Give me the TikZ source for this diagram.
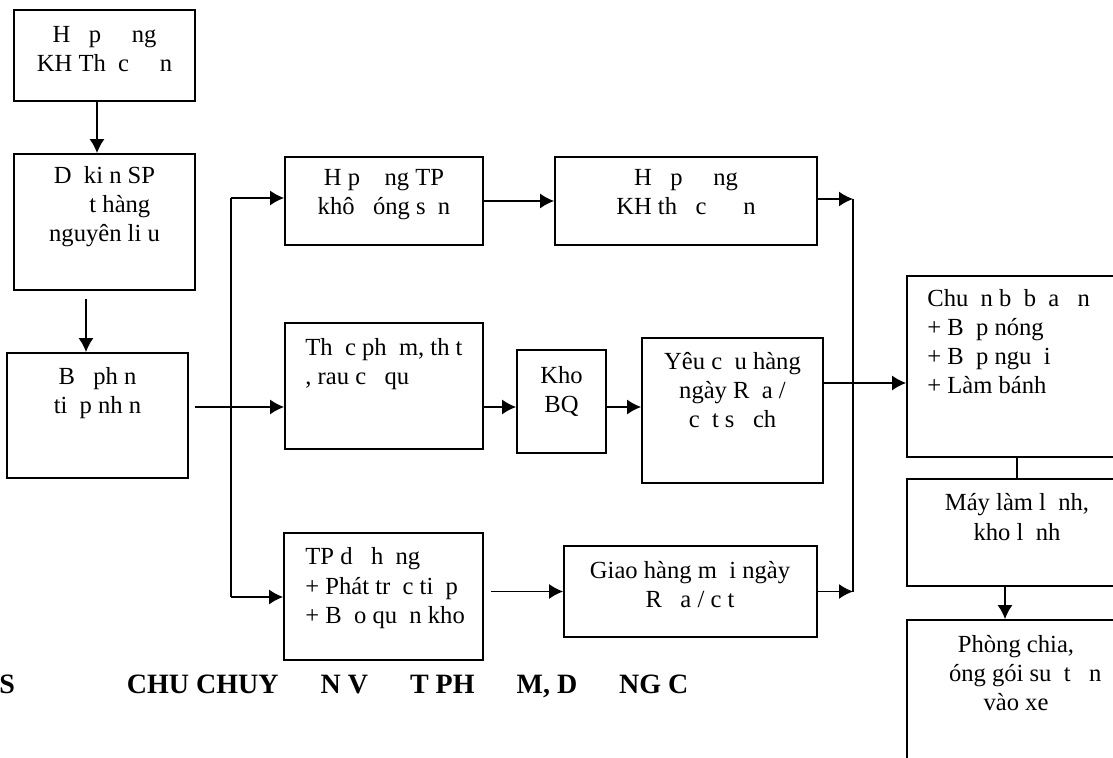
\documentclass[tikz,border=0pt]{standalone}
\usepackage{fontspec}
\setmainfont{Liberation Serif}
\usetikzlibrary{arrows.meta,fit}

\tikzset{
  box/.style={draw, line width=0.9pt, inner sep=0pt},
  ctxt/.style={align=center, inner sep=0pt, anchor=base},
  ltxt/.style={align=left, inner sep=0pt, anchor=base west},
  conn/.style={line width=0.8pt}
}

\begin{document}
\begin{tikzpicture}[x=0.5pt, y=-0.5pt, font=\fontsize{12.3}{14.5}\selectfont, >={Latex[length=7pt,width=7.5pt]}]
    \clip (0,0) rectangle (1113,758);
    \node[box, fit={(14,10) (195,101)}] (hd) {};
    \node[ctxt] (hdt) at (104.5,72) {H~~~p~~~~~ng\\KH Th~~c~~~~~n};
    \node[box, fit={(14,154) (195,290)}] (dk) {};
    \node[ctxt] (dkt) at (104.5,242) {D~~ki~n SP\\~~~~~t hàng\\nguyên li~u};
    \node[box, fit={(7,353) (188,478)}] (bp) {};
    \node[ctxt] (bpt) at (97.5,414) {B~~~ph~n\\ti~~p nh~n};

    \node[box, fit={(285,157) (483,245)}] (hk) {};
    \node[ctxt] (hkt) at (384,215) {H~p~~~~ng TP\\khô~~~óng s~~n};
    \node[box, fit={(555,157) (817,245)}] (kh) {};
    \node[ctxt] (kht) at (686,215) {H~~~p~~~~~ng\\KH th~~~c~~~~~~n};

    \node[box, fit={(285,323) (483,449)}] (tp) {};
    \node[ltxt] (tpt) at (305,385) {Th~~c ph~~m, th~t\\, rau c~~~qu};
    \node[box, fit={(517,350) (606,453)}] (kho) {};
    \node[ctxt] (khot) at (561.5,413) {Kho\\BQ};
    \node[box, fit={(642,338) (823,483)}] (yc) {};
    \node[ctxt] (yct) at (732.5,428) {Yêu c~~u hàng\\ngày R~~a /\\c~~t s~~~ch};

    \node[box, fit={(284,533) (483,660)}] (dp) {};
    \node[ltxt] (dpt) at (305,623) {TP d~~~h~~ng\\+ Phát tr~~c ti~~p\\+ B~~o qu~~n kho};
    \node[box, fit={(564,546) (817,637)}] (gh) {};
    \node[ctxt] (ght) at (690,607) {Giao hàng m~~i ngày\\R~~~a / c~t};

    \node[box, fit={(907,276) (1127,457)}] (cb) {};
    \node[ltxt] (cbt) at (927,394) {Chu~~n b~~b~~a~~~n\\+ B~~p nóng\\+ B~~p ngu~~i\\+ Làm bánh};
    \node[box, fit={(907,479) (1127,586)}] (ml) {};
    \node[ctxt] (mlt) at (1017,540) {Máy làm l~~nh,\\kho l~~nh};
    \node[box, fit={(907,620) (1127,800)}] (pc) {};
    \node[ctxt] (pct) at (1016,710) {Phòng chia,\\~~~óng gói su~~t~~~n\\vào xe};

    \node[anchor=base west, inner sep=0pt, font=\fontsize{14}{16}\selectfont\bfseries] (title) at (-1,693)
        {S\hspace{56pt}CHU CHUY\hspace{21pt}N V\hspace{21pt}T PH\hspace{21pt}M, D\hspace{21pt}NG C};

    \coordinate (bl1) at (231,198);
    \coordinate (bl2) at (231,597);
    \coordinate (bm) at (231,407);
    \coordinate (br1) at (853,199);
    \coordinate (br2) at (853,591.5);
    \coordinate (ym) at (853,383);

    \draw[conn, ->] ([xshift=-3.75pt]hd.south) -- ([xshift=-3.75pt]dk.north);
    \draw[conn, ->] ([shift={(-18.5,8)}]dk.south) -- ([xshift=-5.75pt]bp.north);
    \draw[conn] (bl1) -- (bl2);
    \draw[conn, ->] (bl1) -- (bl1 -| hk.west);
    \draw[conn, ->] ([xshift=3pt]bp.east |- bm) -- (tp.west |- bm);
    \draw[conn, ->] (bl2) -- (bl2 -| dp.west);
    \draw[conn, ->] (hk) -- (kh);
    \draw[conn, ->] (tp.east |- bm) -- (kho.west |- bm);
    \draw[conn, ->] (kho.east |- bm) -- (yc.west |- bm);
    \draw[conn, ->] ([xshift=3.5pt]dp.east |- gh.west) -- (gh.west);
    \draw[conn] (br1) -- (br2);
    \draw[conn, ->] (kh.east |- br1) -- (br1);
    \draw[conn, ->] (gh.east) -- (br2);
    \draw[conn, ->] (yc.east |- ym) -- (cb.west |- ym);
    \draw[conn] (cb.south) -- (ml.north);
    \draw[conn, ->] ([xshift=-6pt]ml.south) -- ([xshift=-6pt]pc.north);
\end{tikzpicture}
\end{document}
